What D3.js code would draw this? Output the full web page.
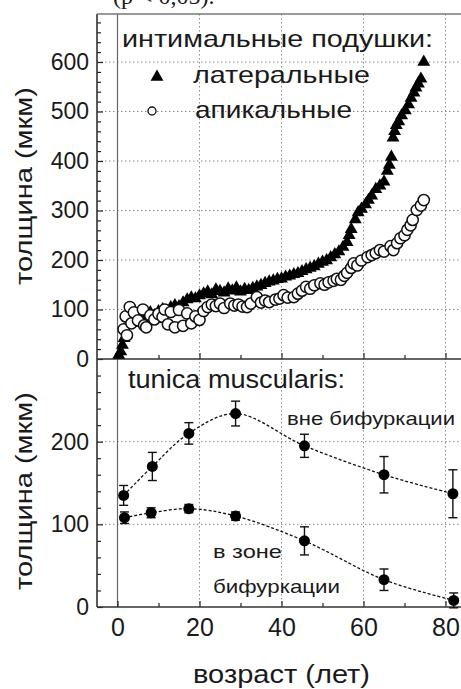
<!DOCTYPE html>
<html lang="ru">
<head>
<meta charset="UTF-8">
<title>Толщина интимальных подушек и tunica muscularis</title>
<script src="https://d3js.org/d3.v7.min.js"></script>
<style>
    body { margin: 0; background: #fff; }
    svg { display: block; font-family: "Liberation Sans", Arial, sans-serif; }
    .grid line { stroke: #8a8a8a; stroke-width: 1; stroke-dasharray: 1.5,2.5; }
    .tick text { fill: #1a1a1a; }
    .lbl { fill: #1a1a1a; }
</style>
</head>
<body>
<svg width="461" height="689"></svg>
<script>
// ---- data ----
const xTicks = [0, 20, 40, 60, 80];
const xMinor = [10, 30, 50, 70];
const yTopTicks = [0, 100, 200, 300, 400, 500, 600];
const yBotTicks = [0, 100, 200];

// интимальные подушки, латеральные: [возраст, толщина]
const lateral = [
    [0.3, 8], [0.8, 15], [1.2, 28], [1.6, 42], [2, 58], [2.5, 68], [3, 76], [3.5, 72], [4, 82],
    [5, 86], [6, 80], [7, 90], [8, 94], [9, 88], [10, 96], [11, 100], [12, 97], [13, 104],
    [14, 108], [15, 106], [16, 114], [17, 120], [18, 124], [19, 122], [20, 128], [21, 132],
    [22, 136], [23, 130], [24, 140], [25, 137], [26, 134], [27, 142], [28, 138], [29, 144],
    [30, 136], [31, 141], [32, 139], [33, 143], [34, 146], [35, 149], [36, 153], [37, 156],
    [38, 158], [39, 161], [40, 162], [41, 166], [42, 168], [43, 171], [44, 173], [45, 177],
    [46, 181], [47, 184], [48, 187], [49, 192], [50, 196], [51, 199], [52, 205], [53, 211],
    [54, 217], [55, 226], [56, 236], [56.5, 250], [57, 262], [58, 282], [58.7, 296], [59.5, 303],
    [60.5, 312], [61.2, 321], [62, 330], [63, 343], [64, 350], [65, 358], [65.8, 380],
    [66.3, 392], [66.8, 408], [67.2, 447], [67.6, 460], [68, 472], [68.6, 480], [69.3, 492],
    [70.2, 502], [71, 514], [71.6, 527], [72.3, 538], [72.8, 548], [73.4, 556], [74, 566],
    [74.7, 600]
];

// интимальные подушки, апикальные: [возраст, толщина]
const apical = [
    [1.5, 60], [2, 86], [2.3, 48], [3, 105], [3.4, 72], [4, 94], [5, 78], [6.2, 100], [6.5, 68],
    [7, 64], [8, 88], [9, 80], [10, 91], [11, 85], [11.5, 100], [12.3, 70], [13, 95], [14, 64],
    [15, 99], [16, 67], [17, 92], [18, 72], [19, 86], [20, 79], [21, 97], [22, 105], [23, 110],
    [24, 107], [25, 112], [26, 103], [27.5, 112], [28.5, 108], [29.5, 110], [30.5, 106],
    [31.6, 105], [32.5, 112], [34, 125], [35, 114], [36, 118], [37, 115], [38.5, 120], [39.5, 122],
    [40.5, 129], [41.5, 124], [43, 125], [44, 132], [45, 138], [46, 146], [47, 142], [48, 149],
    [49.5, 153], [50.5, 150], [51.5, 155], [52.7, 158], [53.5, 162], [54.5, 160], [55.3, 168],
    [56, 174], [57, 184], [57.6, 193], [58.5, 189], [59.5, 199], [61, 206], [62, 210], [63, 214],
    [64, 220], [65, 217], [66.6, 228], [67.3, 220], [68.2, 234], [69, 244], [70, 250],
    [70.7, 261], [71.5, 270], [72, 281], [73, 301], [74, 310], [74.7, 321]
];

// tunica muscularis: [возраст, среднее, ошибка]
const outsideAge = [1.5, 8.5, 17.4, 28.8, 45.6, 65, 81.8];
const outsideVal = [135, 170, 210, 234, 195, 160, 137];
const outsideErr = [12, 17, 13, 15, 14, 22, 29];
const zoneAge = [1.7, 8.2, 17.4, 28.8, 45.6, 65, 82];
const zoneVal = [108, 114, 119, 110, 80, 33, 8];
const zoneErr = [7, 6, 5, 5, 17, 13, 9];

// ---- layout ----
const svg = d3.select("svg");
const frameLeft = 97, frameTop = 14, split = 359, frameBottom = 607;

const x = d3.scaleLinear().domain([-5, 85]).range([frameLeft, 466]);
const yTop = d3.scaleLinear().domain([0, 697]).range([split, frameTop]);
const yBot = d3.scaleLinear().domain([0, 300]).range([frameBottom, split]);

// clipped caption of the page above the figure
svg.append("text")
    .attr("x", 113).attr("y", 4)
    .style("font-family", "'Liberation Serif', 'Times New Roman', serif")
    .style("font-size", "24px")
    .attr("class", "lbl")
    .text("(р < 0,05).");

// grid
const grid = svg.append("g").attr("class", "grid");
grid.selectAll(".gx")
    .data(xTicks.filter(d => d !== 0))
    .join("line")
    .attr("x1", d => x(d)).attr("x2", d => x(d))
    .attr("y1", frameTop).attr("y2", frameBottom);
grid.selectAll(".gyt")
    .data(yTopTicks.filter(d => d > 0))
    .join("line")
    .attr("x1", frameLeft).attr("x2", 461)
    .attr("y1", d => yTop(d)).attr("y2", d => yTop(d));
grid.selectAll(".gyb")
    .data(yBotTicks.filter(d => d > 0))
    .join("line")
    .attr("class", "gyb")
    .attr("x1", frameLeft).attr("x2", 461)
    .attr("y1", d => yBot(d)).attr("y2", d => yBot(d));

// x = 0 line
svg.append("line")
    .attr("x1", x(0)).attr("x2", x(0))
    .attr("y1", frameTop).attr("y2", frameBottom)
    .attr("stroke", "#666").attr("stroke-width", 1.2);

// axes
function styleAxis(g) {
    g.select(".domain").remove();
    g.selectAll(".tick line").attr("stroke", "#222").attr("stroke-width", 1.2);
    g.selectAll(".tick text").style("font-size", "23px");
}

const minorY = (max) => d3.range(0, max + 1, 20).filter(d => d % 100 !== 0);

svg.append("g")
    .attr("transform", `translate(${frameLeft},0)`)
    .call(d3.axisLeft(yTop).tickValues(yTopTicks).tickSizeInner(-6).tickSizeOuter(0).tickPadding(8))
    .call(styleAxis);
svg.append("g")
    .attr("transform", `translate(${frameLeft},0)`)
    .call(d3.axisLeft(yTop).tickValues(minorY(690)).tickSizeInner(-4).tickSizeOuter(0).tickFormat(""))
    .call(styleAxis);
svg.append("g")
    .attr("transform", `translate(${frameLeft},0)`)
    .call(d3.axisLeft(yBot).tickValues(yBotTicks).tickSizeInner(-6).tickSizeOuter(0).tickPadding(8))
    .call(styleAxis);
svg.append("g")
    .attr("transform", `translate(${frameLeft},0)`)
    .call(d3.axisLeft(yBot).tickValues(minorY(290)).tickSizeInner(-4).tickSizeOuter(0).tickFormat(""))
    .call(styleAxis);

svg.append("g")
    .attr("transform", `translate(0,${frameBottom})`)
    .call(d3.axisBottom(x).tickValues(xTicks).tickSizeInner(-6).tickSizeOuter(0).tickPadding(11))
    .call(styleAxis)
    .selectAll(".tick text").style("font-size", "25px");
svg.append("g")
    .attr("transform", `translate(0,${frameBottom})`)
    .call(d3.axisBottom(x).tickValues(xMinor).tickSizeInner(-4).tickSizeOuter(0).tickFormat(""))
    .call(styleAxis);
svg.append("g")
    .attr("transform", `translate(0,${split})`)
    .call(d3.axisBottom(x).tickValues(xTicks).tickSizeInner(-6).tickSizeOuter(0).tickFormat(""))
    .call(styleAxis);
svg.append("g")
    .attr("transform", `translate(0,${split})`)
    .call(d3.axisBottom(x).tickValues(xMinor).tickSizeInner(-4).tickSizeOuter(0).tickFormat(""))
    .call(styleAxis);

// frame
const frame = svg.append("g").attr("stroke", "#333").attr("stroke-width", 1.6);
frame.append("line").attr("x1", frameLeft).attr("x2", frameLeft).attr("y1", frameTop).attr("y2", frameBottom);
frame.append("line").attr("x1", frameLeft).attr("x2", 461).attr("y1", frameTop).attr("y2", frameTop).attr("stroke", "#777");
frame.append("line").attr("x1", frameLeft).attr("x2", 461).attr("y1", split).attr("y2", split);
frame.append("line").attr("x1", frameLeft).attr("x2", 461).attr("y1", frameBottom).attr("y2", frameBottom);

// upper panel scatter
const tri = d3.symbol().type(d3.symbolTriangle).size(72);
svg.append("g")
    .selectAll("path")
    .data(lateral)
    .join("path")
    .attr("d", tri)
    .attr("transform", d => `translate(${x(d[0])},${yTop(d[1])})`)
    .attr("fill", "#000");

svg.append("g")
    .selectAll("circle")
    .data(apical)
    .join("circle")
    .attr("cx", d => x(d[0]))
    .attr("cy", d => yTop(d[1]))
    .attr("r", 5.6)
    .attr("fill", "#fff")
    .attr("stroke", "#111")
    .attr("stroke-width", 1.5);

// text helper: width matched to the reference with textLength
function label(xp, yp, size, w, txt) {
    return svg.append("text").attr("class", "lbl")
        .attr("x", xp).attr("y", yp)
        .attr("textLength", w).attr("lengthAdjust", "spacingAndGlyphs")
        .style("font-size", size + "px")
        .text(txt);
}

// legend and captions
label(122, 47, 24, 311, "интимальные подушки:");
svg.append("path").attr("d", tri).attr("transform", "translate(157,77)").attr("fill", "#000");
label(193, 83, 24, 177, "латеральные");
svg.append("circle").attr("cx", 152).attr("cy", 111).attr("r", 4)
    .attr("fill", "#fff").attr("stroke", "#111").attr("stroke-width", 1.3);
label(195, 118, 24, 157, "апикальные");

// lower panel series
function drawSeries(ages, vals, errs) {
    const pts = ages.map((a, i) => ({ age: a, v: vals[i], e: errs[i] }));
    const line = d3.line()
        .x(d => x(d.age))
        .y(d => yBot(d.v))
        .curve(d3.curveCatmullRom.alpha(0.5));
    svg.append("path")
        .datum(pts)
        .attr("d", line)
        .attr("fill", "none")
        .attr("stroke", "#111")
        .attr("stroke-width", 1.3)
        .attr("stroke-dasharray", "3,2");
    const g = svg.append("g").attr("stroke", "#111").attr("stroke-width", 1.4);
    g.selectAll(".eb")
        .data(pts)
        .join("line")
        .attr("x1", d => x(d.age)).attr("x2", d => x(d.age))
        .attr("y1", d => yBot(d.v - d.e)).attr("y2", d => yBot(d.v + d.e));
    g.selectAll(".cap-top")
        .data(pts)
        .join("line")
        .attr("x1", d => x(d.age) - 4.5).attr("x2", d => x(d.age) + 4.5)
        .attr("y1", d => yBot(d.v + d.e)).attr("y2", d => yBot(d.v + d.e));
    g.selectAll(".cap-bot")
        .data(pts)
        .join("line")
        .attr("class", "cb")
        .attr("x1", d => x(d.age) - 4.5).attr("x2", d => x(d.age) + 4.5)
        .attr("y1", d => yBot(d.v - d.e)).attr("y2", d => yBot(d.v - d.e));
    svg.append("g")
        .selectAll("circle")
        .data(pts)
        .join("circle")
        .attr("cx", d => x(d.age))
        .attr("cy", d => yBot(d.v))
        .attr("r", 5.5)
        .attr("fill", "#000");
}
drawSeries(outsideAge, outsideVal, outsideErr);
drawSeries(zoneAge, zoneVal, zoneErr);

label(128, 388, 25, 217, "tunica muscularis:");
label(287, 425, 19, 168, "вне бифуркации");
label(213, 558, 19, 69, "в зоне");
label(213, 593, 19, 127, "бифуркации");

// axis titles
svg.append("text").attr("class", "lbl")
    .attr("transform", "translate(32,186) rotate(-90)")
    .attr("text-anchor", "middle")
    .attr("textLength", 198).attr("lengthAdjust", "spacingAndGlyphs")
    .style("font-size", "24px")
    .text("толщина (мкм)");
svg.append("text").attr("class", "lbl")
    .attr("transform", "translate(32,491) rotate(-90)")
    .attr("text-anchor", "middle")
    .attr("textLength", 198).attr("lengthAdjust", "spacingAndGlyphs")
    .style("font-size", "24px")
    .text("толщина (мкм)");
label(193, 683, 25, 177, "возраст (лет)");
</script>
</body>
</html>
